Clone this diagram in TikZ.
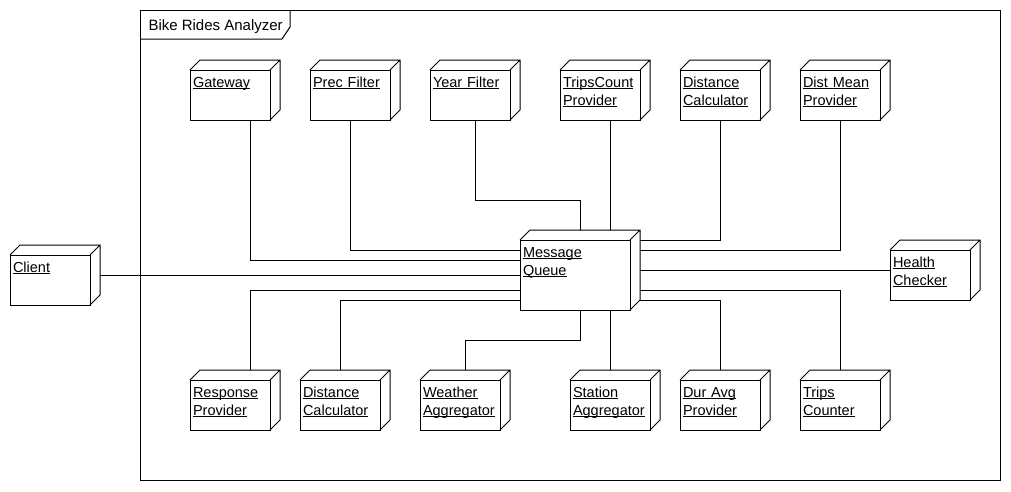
\documentclass[tikz,border=0pt]{standalone}
\usepackage{fontspec}
\setmainfont{Liberation Sans}
\usetikzlibrary{positioning}
\newcommand{\ulabel}[1]{\underline{\smash{#1}}}

\begin{document}
\begin{tikzpicture}[x=1pt,y=-1pt,line width=1pt,node distance=120pt,on grid,
comp/.style={draw,fill=white,align=left,inner xsep=3pt,inner ysep=0pt,outer sep=0pt,
    text width=74pt,text height=17pt,text depth=33pt,
    font=\fontsize{14.5}{18}\selectfont},
queue/.style={comp,text width=104pt,text depth=53pt}
]
\useasboundingbox (0,0) rectangle (1011,491);

% frame of the system
\node[draw,minimum width=860pt,minimum height=470pt,inner sep=0pt,outer sep=0pt] (frame) at (570,245) {};
\node[anchor=base west,inner sep=0pt,font=\fontsize{15}{18}\selectfont] (title)
    at ([shift={(8pt,-20pt)}]frame.north west) {Bike Rides Analyzer};
\draw ([yshift=-29pt]frame.north west) -- ++(142,0) -- ++(8,-12) -- ++(0,-17);

% top row
\node[comp] (gw) at (230,95) {\ulabel{Gateway}};
\node[comp] (prec) [right=of gw] {\ulabel{Prec Filter}};
\node[comp] (year) [right=of prec] {\ulabel{Year Filter}};
\node[comp] (tcp) [right=130pt of year] {\ulabel{TripsCount}\\\ulabel{Provider}};
\node[comp] (dcalc) [right=of tcp] {\ulabel{Distance}\\\ulabel{Calculator}};
\node[comp] (dmean) [right=of dcalc] {\ulabel{Dist Mean}\\\ulabel{Provider}};

% middle
\node[queue] (mq) at (575,275) {\ulabel{Message}\\\ulabel{Queue}};
\node[comp] (client) at (50,280) {\ulabel{Client}};
\node[comp] (health) at (930,275) {\ulabel{Health}\\\ulabel{Checker}};

% bottom row
\node[comp] (resp) [below=310pt of gw] {\ulabel{Response}\\\ulabel{Provider}};
\node[comp] (dcalc2) [right=110pt of resp] {\ulabel{Distance}\\\ulabel{Calculator}};
\node[comp] (weather) [right=of dcalc2] {\ulabel{Weather}\\\ulabel{Aggregator}};
\node[comp] (station) [right=150pt of weather] {\ulabel{Station}\\\ulabel{Aggregator}};
\node[comp] (duravg) [right=110pt of station] {\ulabel{Dur Avg}\\\ulabel{Provider}};
\node[comp] (trips) [right=of duravg] {\ulabel{Trips}\\\ulabel{Counter}};

% depth of the boxes
\foreach \n in {gw,prec,year,tcp,dcalc,dmean,mq,client,health,resp,dcalc2,weather,station,duravg,trips}
  \draw (\n.north west) -- ++(10pt,10pt) -| ([shift={(10pt,10pt)}]\n.south east) -- (\n.south east)
        (\n.north east) -- ++(10pt,10pt);

% links to the queue
\draw ([xshift=20pt]gw.south) |- ([yshift=-20pt]mq.north west);
\draw (prec.south) |- ([yshift=-10pt]mq.north west);
\draw ([xshift=5pt]year.south) -- ++(0,80) -| ([shift={(60pt,10pt)}]mq.north west);
\draw ([xshift=10pt]tcp.south) -- ([shift={(35pt,10pt)}]mq.north);
\draw (dcalc.south) |- ([xshift=10pt]mq.north east);
\draw (dmean.south) |- ([shift={(10pt,-10pt)}]mq.north east);
\draw ([shift={(10pt,5pt)}]client.east) -- ([yshift=-35pt]mq.north west);
\draw ([shift={(10pt,-30pt)}]mq.north east) -- ([yshift=5pt]health.west);
\draw ([shift={(20pt,10pt)}]resp.north) |- ([yshift=20pt]mq.south west);
\draw ([yshift=10pt]dcalc2.north) |- ([yshift=10pt]mq.south west);
\draw ([shift={(5pt,10pt)}]weather.north) -- ++(0,-30) -| ([xshift=60pt]mq.south west);
\draw ([yshift=10pt]station.north) -- ([xshift=35pt]mq.south);
\draw ([yshift=10pt]duravg.north) |- ([shift={(10pt,10pt)}]mq.south east);
\draw ([yshift=10pt]trips.north) |- ([shift={(10pt,20pt)}]mq.south east);
\end{tikzpicture}
\end{document}
